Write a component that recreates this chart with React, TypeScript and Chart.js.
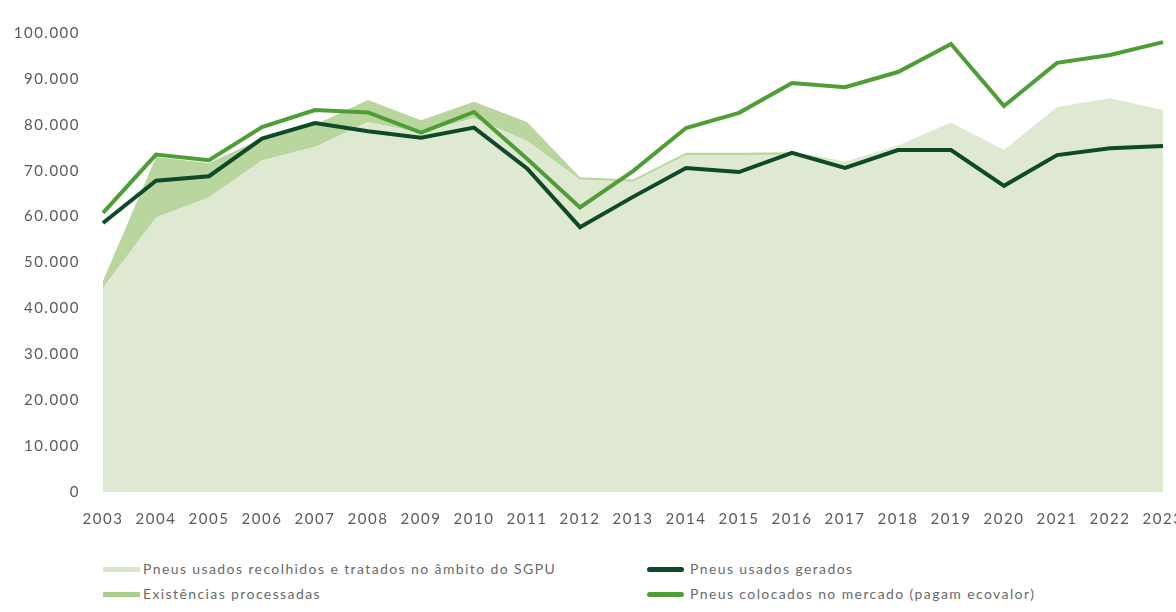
import React, { useEffect, useRef } from "react";
import { Chart, registerables } from "chart.js";

Chart.register(...registerables);

const YEARS = ["2003","2004","2005","2006","2007","2008","2009","2010","2011","2012","2013","2014","2015","2016","2017","2018","2019","2020","2021","2022","2023"];

// Pneus usados recolhidos e tratados no âmbito do SGPU
const RECOLHIDOS = [44500, 59800, 64200, 72300, 75200, 80600, 78300, 81500, 76500, 68100, 67600, 73400, 73400, 73500, 72000, 75500, 80500, 74500, 83900, 85800, 83200];
// Existências processadas (stacked on top of recolhidos)
const EXISTENCIAS = [1500, 13200, 7500, 4700, 4800, 4800, 2700, 3500, 4100, 500, 500, 500, 500, 500, 0, 0, 0, 0, 0, 0, 0];
// Pneus usados gerados
const GERADOS = [58600, 67800, 68800, 77000, 80400, 78600, 77200, 79400, 70500, 57700, 64300, 70600, 69700, 73900, 70600, 74500, 74500, 66700, 73400, 74900, 75400];
// Pneus colocados no mercado (pagam ecovalor)
const COLOCADOS = [60800, 73500, 72300, 79500, 83200, 82700, 78300, 82800, 72600, 62000, 69900, 79300, 82600, 89100, 88200, 91500, 97600, 84100, 93500, 95200, 98000];

const Y_MIN = 0;
const Y_MAX = 100000;
const Y_STEP = 10000;

const LEGEND_LABELS = [
  "Pneus usados recolhidos e tratados no âmbito do SGPU",
  "Existências processadas",
  "Pneus usados gerados",
  "Pneus colocados no mercado (pagam ecovalor)",
];

const C_LIGHT = "#dfe9d2";
const C_BAND = "#b9d69f";
const C_DARK = "#0d4a2a";
const C_GREEN = "#4e9e35";
const C_TEXT = "#5a5a5a";

const fmt = (v: number) => String(v).replace(/\B(?=(\d{3})+(?!\d))/g, ".");

const spacingPlugin = {
  id: "letterSpacing",
  beforeLayout(chart: any) {
    chart.ctx.letterSpacing = "1.5px";
  },
  beforeDraw(chart: any) {
    chart.ctx.letterSpacing = "1.5px";
  },
};

export default function App() {
  const ref = useRef<HTMLCanvasElement | null>(null);

  useEffect(() => {
    if (!ref.current) return;
    const bandTop = RECOLHIDOS.map((v, i) => v + EXISTENCIAS[i]);
    const chart = new Chart(ref.current, {
      type: "line",
      data: {
        labels: YEARS,
        datasets: [
          {
            label: LEGEND_LABELS[0],
            data: RECOLHIDOS,
            fill: "origin",
            backgroundColor: C_LIGHT,
            borderColor: "transparent",
            borderWidth: 0,
            pointRadius: 0,
            order: 4,
          },
          {
            label: LEGEND_LABELS[1],
            data: bandTop,
            fill: "-1",
            backgroundColor: C_BAND,
            borderColor: "transparent",
            borderWidth: 0,
            pointRadius: 0,
            order: 3,
          },
          {
            label: LEGEND_LABELS[2],
            data: GERADOS,
            fill: false,
            borderColor: C_DARK,
            borderWidth: 4,
            pointRadius: 0,
            order: 1,
          },
          {
            label: LEGEND_LABELS[3],
            data: COLOCADOS,
            fill: false,
            borderColor: C_GREEN,
            borderWidth: 4,
            pointRadius: 0,
            order: 2,
          },
        ],
      },
      options: {
        animation: false,
        responsive: false,
        events: [],
        layout: { padding: { top: 33, right: 13, bottom: 8, left: 0 } },
        plugins: {
          legend: { display: false },
          tooltip: { enabled: false },
        },
        scales: {
          x: {
            offset: false,
            grid: { display: false, drawTicks: false },
            border: { display: false },
            ticks: {
              autoSkip: false,
              maxRotation: 0,
              padding: 18,
              color: C_TEXT,
              font: { family: "Lato", size: 15 },
            },
            afterFit: (scale: any) => {
              scale.height = 40;
              scale.paddingLeft = 0;
              scale.paddingRight = 0;
            },
          },
          y: {
            min: Y_MIN,
            max: Y_MAX,
            grid: { display: false, drawTicks: false },
            border: { display: false },
            ticks: {
              stepSize: Y_STEP,
              padding: 23,
              color: C_TEXT,
              font: { family: "Lato", size: 15 },
              callback: (v: any) => fmt(Number(v)),
            },
            afterFit: (scale: any) => {
              scale.width = 103;
              scale.paddingTop = 0;
              scale.paddingBottom = 0;
            },
          },
        },
      },
      plugins: [spacingPlugin],
    });
    return () => chart.destroy();
  }, []);

  const textStyle: React.CSSProperties = {
    position: "absolute",
    fontFamily: "Lato, sans-serif",
    fontSize: 14,
    color: "#6a6a6a",
    letterSpacing: "1.4px",
    lineHeight: "18px",
    whiteSpace: "nowrap",
  };
  const sw = (left: number, top: number, color: string, round: boolean): React.CSSProperties => ({
    position: "absolute",
    left,
    top,
    width: 37,
    height: 5,
    background: color,
    borderRadius: round ? 3 : 0,
  });

  return (
    <div style={{ position: "fixed", left: 0, top: 0, width: 1176, height: 612, background: "#ffffff", overflow: "hidden" }}>
      <canvas ref={ref} width={1176} height={540} style={{ display: "block", width: 1176, height: 540 }} />
      <div style={sw(103, 567, "#d5e5c5", false)} />
      <div style={{ ...textStyle, left: 143, top: 560 }}>{LEGEND_LABELS[0]}</div>
      <div style={sw(103, 592, "#a9cf8c", false)} />
      <div style={{ ...textStyle, left: 143, top: 585 }}>{LEGEND_LABELS[1]}</div>
      <div style={sw(647, 567, C_DARK, true)} />
      <div style={{ ...textStyle, left: 690, top: 560 }}>{LEGEND_LABELS[2]}</div>
      <div style={sw(647, 592, C_GREEN, true)} />
      <div style={{ ...textStyle, left: 690, top: 585 }}>{LEGEND_LABELS[3]}</div>
    </div>
  );
}
